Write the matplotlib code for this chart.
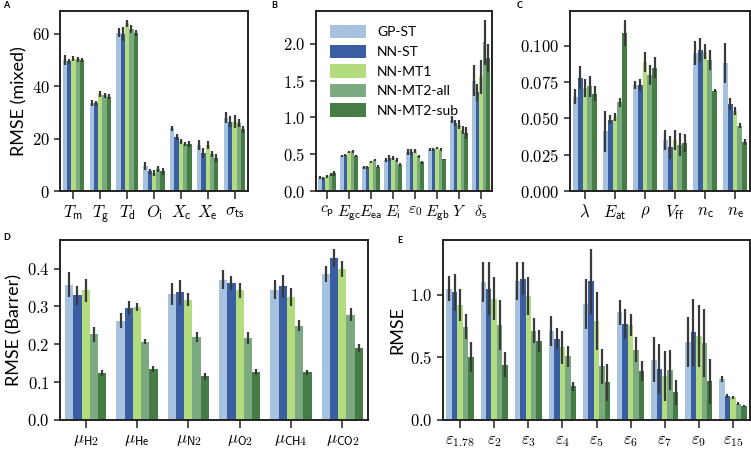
import numpy as np
import matplotlib
matplotlib.use("Agg")
import matplotlib.pyplot as plt
from matplotlib.ticker import FuncFormatter

plt.rcParams['font.family'] = ['Lato', 'DejaVu Sans']
plt.rcParams['mathtext.fontset'] = 'cm'

models = ['GP-ST', 'NN-ST', 'NN-MT1', 'NN-MT2-all', 'NN-MT2-sub']
colors = ['#a6c2de', '#3b5ea3', '#b2dc7d', '#7ba980', '#467d47']

# panel A
a_labels = [r'$T_\mathsf{m}$', r'$T_\mathsf{g}$', r'$T_\mathsf{d}$', r'$O_\mathsf{i}$',
            r'$X_\mathsf{c}$', r'$X_\mathsf{e}$', r'$\sigma_\mathsf{ts}$']
a_vals = [[50.0, 33.5, 60.5, 9.5, 24.0, 17.5, 28.0],
          [49.5, 33.5, 60.0, 7.5, 20.5, 14.5, 26.5],
          [50.5, 37.0, 64.0, 7.0, 19.0, 17.5, 26.5],
          [50.3, 36.5, 62.0, 8.5, 18.0, 14.0, 26.0],
          [50.0, 36.0, 60.5, 7.5, 18.0, 12.5, 23.5]]
a_err = [[2.0, 1.2, 1.8, 1.5, 1.0, 2.0, 2.0],
         [1.0, 1.0, 2.5, 1.0, 1.2, 2.0, 2.0],
         [1.0, 1.2, 1.5, 1.2, 1.0, 1.5, 2.5],
         [1.0, 1.0, 1.5, 1.2, 0.8, 1.2, 1.5],
         [0.8, 1.0, 1.2, 1.2, 1.0, 1.5, 1.5]]

# panel B
b_labels = [r'$c_\mathsf{p}$', r'$E_\mathsf{gc}$', r'$E_\mathsf{ea}$', r'$E_\mathsf{i}$',
            r'$\varepsilon_0$', r'$E_\mathsf{gb}$', r'$Y$', r'$\delta_\mathsf{s}$']
b_vals = [[0.18, 0.48, 0.32, 0.42, 0.53, 0.56, 0.97, 1.50],
          [0.17, 0.49, 0.32, 0.45, 0.53, 0.57, 0.93, 1.34],
          [0.20, 0.53, 0.39, 0.45, 0.54, 0.58, 0.90, 1.55],
          [0.22, 0.54, 0.42, 0.42, 0.47, 0.56, 0.83, 2.02],
          [0.24, 0.48, 0.33, 0.36, 0.39, 0.43, 0.79, 1.81]]
b_err = [[0.02, 0.015, 0.02, 0.03, 0.04, 0.02, 0.05, 0.21],
         [0.02, 0.015, 0.02, 0.04, 0.04, 0.02, 0.04, 0.11],
         [0.02, 0.015, 0.015, 0.03, 0.03, 0.015, 0.06, 0.23],
         [0.02, 0.02, 0.015, 0.03, 0.02, 0.02, 0.06, 0.31],
         [0.03, 0.015, 0.02, 0.02, 0.02, 0.01, 0.08, 0.19]]

# panel C
c_labels = [r'$\lambda$', r'$E_\mathsf{at}$', r'$\rho$', r'$V_\mathsf{ff}$',
            r'$n_\mathsf{c}$', r'$n_\mathsf{e}$']
c_vals = [[0.065, 0.041, 0.073, 0.035, 0.095, 0.088],
          [0.078, 0.049, 0.073, 0.030, 0.097, 0.060],
          [0.071, 0.051, 0.089, 0.035, 0.096, 0.055],
          [0.072, 0.061, 0.080, 0.032, 0.090, 0.045],
          [0.067, 0.109, 0.085, 0.033, 0.069, 0.034]]
c_err = [[0.005, 0.014, 0.003, 0.007, 0.008, 0.014],
         [0.008, 0.003, 0.004, 0.008, 0.008, 0.004],
         [0.006, 0.003, 0.007, 0.007, 0.005, 0.003],
         [0.007, 0.003, 0.007, 0.008, 0.007, 0.0015],
         [0.005, 0.009, 0.007, 0.006, 0.001, 0.002]]

# panel D
d_labels = [r'$\mu_\mathsf{H2}$', r'$\mu_\mathsf{He}$', r'$\mu_\mathsf{N2}$',
            r'$\mu_\mathsf{O2}$', r'$\mu_\mathsf{CH4}$', r'$\mu_\mathsf{CO2}$']
d_vals = [[0.357, 0.262, 0.333, 0.371, 0.344, 0.386],
          [0.330, 0.296, 0.337, 0.362, 0.353, 0.428],
          [0.343, 0.299, 0.318, 0.343, 0.325, 0.399],
          [0.226, 0.207, 0.219, 0.217, 0.249, 0.278],
          [0.124, 0.134, 0.115, 0.128, 0.126, 0.191]]
d_err = [[0.033, 0.020, 0.028, 0.025, 0.025, 0.021],
         [0.025, 0.018, 0.032, 0.018, 0.030, 0.025],
         [0.030, 0.010, 0.017, 0.020, 0.025, 0.021],
         [0.020, 0.006, 0.014, 0.016, 0.015, 0.017],
         [0.007, 0.008, 0.010, 0.008, 0.006, 0.011]]

# panel E
e_labels = [r'$\varepsilon_{1.78}$', r'$\varepsilon_2$', r'$\varepsilon_3$', r'$\varepsilon_4$',
            r'$\varepsilon_5$', r'$\varepsilon_6$', r'$\varepsilon_7$', r'$\varepsilon_9$',
            r'$\varepsilon_{15}$']
e_vals = [[1.05, 1.10, 1.11, 0.71, 0.93, 0.86, 0.48, 0.62, 0.33],
          [1.02, 1.05, 1.13, 0.65, 1.11, 0.77, 0.41, 0.70, 0.19],
          [0.92, 0.97, 0.99, 0.58, 0.79, 0.76, 0.35, 0.67, 0.18],
          [0.745, 0.76, 0.715, 0.51, 0.43, 0.56, 0.40, 0.615, 0.13],
          [0.50, 0.44, 0.63, 0.27, 0.30, 0.39, 0.22, 0.31, 0.11]]
e_err = [[0.10, 0.16, 0.15, 0.12, 0.20, 0.10, 0.18, 0.20, 0.025],
         [0.15, 0.21, 0.13, 0.085, 0.26, 0.12, 0.20, 0.27, 0.015],
         [0.13, 0.17, 0.15, 0.13, 0.23, 0.085, 0.20, 0.25, 0.015],
         [0.10, 0.20, 0.10, 0.085, 0.14, 0.10, 0.16, 0.27, 0.01],
         [0.12, 0.10, 0.09, 0.035, 0.15, 0.08, 0.10, 0.18, 0.007]]

W, H = 751, 449
fig = plt.figure(figsize=(W / 100, H / 100), dpi=100)


def make_ax(l, t, r, b):
    return fig.add_axes([l / W, 1 - b / H, (r - l) / W, (b - t) / H])


def draw(ax, labels, vals, errs, fmt, ticks, xsize=12):
    n = len(labels)
    x = np.arange(n)
    w = 0.8 / len(models)
    for i, m in enumerate(models):
        ax.bar(x - 0.4 + w * (i + 0.5), vals[i], w, yerr=errs[i], color=colors[i],
               label=m, linewidth=0,
               error_kw=dict(ecolor='#3a3a3a', elinewidth=1.6, capsize=0))
    ax.set_xlim(-0.5, n - 0.5)
    ax.set_xticks(x)
    ax.set_xticklabels(labels, fontsize=xsize)
    ax.set_yticks(ticks)
    ax.yaxis.set_major_formatter(FuncFormatter(lambda v, p: '$' + (fmt % v) + '$'))
    ax.tick_params(axis='y', labelsize=12, length=4, width=1.2, color='#333333')
    ax.tick_params(axis='x', length=6, width=1.2, color='#333333', pad=3)
    for s in ax.spines.values():
        s.set_linewidth(1.4)
        s.set_color('#222222')


ax_a = make_ax(60, 11, 248, 191)
draw(ax_a, a_labels, a_vals, a_err, '%d', [0, 20, 40, 60])
ax_a.set_ylabel('RMSE (mixed)', fontsize=13, labelpad=3)

ax_b = make_ax(316, 11, 492, 191)
draw(ax_b, b_labels, b_vals, b_err, '%.1f', [0.0, 0.5, 1.0, 1.5, 2.0], xsize=11.5)
ax_b.legend(loc='upper left', frameon=False, fontsize=10, handlelength=2.6,
            handleheight=1.1, labelspacing=0.45, borderaxespad=0.6)

ax_c = make_ax(570, 11, 750, 191)
draw(ax_c, c_labels, c_vals, c_err, '%.3f', [0.0, 0.025, 0.05, 0.075, 0.1])

ax_d = make_ax(60, 240, 368, 420)
draw(ax_d, d_labels, d_vals, d_err, '%.1f', [0.0, 0.1, 0.2, 0.3, 0.4])
ax_d.set_ylabel('RMSE (Barrer)', fontsize=13, labelpad=3)

ax_e = make_ax(443, 240, 750, 420)
draw(ax_e, e_labels, e_vals, e_err, '%.1f', [0.0, 0.5, 1.0])
ax_e.set_ylabel('RMSE', fontsize=13, labelpad=3)

for lab, px, py in [('A', 3, 5), ('B', 271, 5), ('C', 517, 5), ('D', 3, 238), ('E', 397, 240)]:
    fig.text(px / W, 1 - py / H, lab, fontsize=6.5, fontweight='bold', va='center', ha='left')

fig.savefig('out.png', dpi=100)
